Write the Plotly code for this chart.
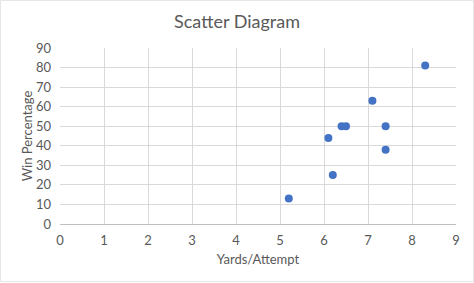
import plotly.graph_objects as go

yards_per_attempt = [5.2, 6.1, 6.2, 6.4, 6.5, 7.1, 7.4, 7.4, 8.3]
win_percentage = [13, 44, 25, 50, 50, 63, 50, 38, 81]

x_ticks = list(range(0, 10))
y_ticks = list(range(0, 100, 10))

W, H = 474, 283
L, R, T, B = 60, 18, 48, 59
pw, ph = W - L - R, H - T - B

fig = go.Figure()
fig.add_trace(go.Scatter(
    x=yards_per_attempt, y=win_percentage, mode="markers",
    marker=dict(color="#4472C4", size=8, line=dict(width=0)),
    showlegend=False,
))

font_family = "Lato, 'Open Sans', sans-serif"
fig.update_layout(
    width=W, height=H,
    margin=dict(l=L, r=R, t=T, b=B),
    paper_bgcolor="white", plot_bgcolor="white",
    font=dict(family=font_family, color="#595959", size=13),
    title=dict(text="Scatter Diagram", x=0.5, xanchor="center", y=0.922, yanchor="middle",
               font=dict(size=18, color="#595959", family=font_family)),
    xaxis=dict(range=[0, 9], tickvals=x_ticks, showgrid=True, gridcolor="#D9D9D9", gridwidth=1,
               zeroline=False, showline=True, linecolor="#BFBFBF", linewidth=1,
               ticks="", tickfont=dict(size=13, color="#595959"), ticklabelstandoff=4,
               title=dict(text="Yards/Attempt", font=dict(size=13, color="#595959"), standoff=8)),
    yaxis=dict(range=[0, 90], tickvals=y_ticks, showgrid=True, gridcolor="#D9D9D9", gridwidth=1,
               zeroline=False, showline=False, ticks="", ticklabelstandoff=8,
               tickfont=dict(size=13, color="#595959"),
               title=dict(text="Win Percentage", font=dict(size=13, color="#595959"), standoff=0)),
    shapes=[dict(type="rect", xref="paper", yref="paper",
                 x0=(-L + 0.5) / pw, x1=1 + (R - 0.5) / pw,
                 y0=(-B + 1.5) / ph, y1=1 + (T - 0.5) / ph,
                 line=dict(color="#E6E6E6", width=1), layer="below")],
)
fig.write_html("out.html")
